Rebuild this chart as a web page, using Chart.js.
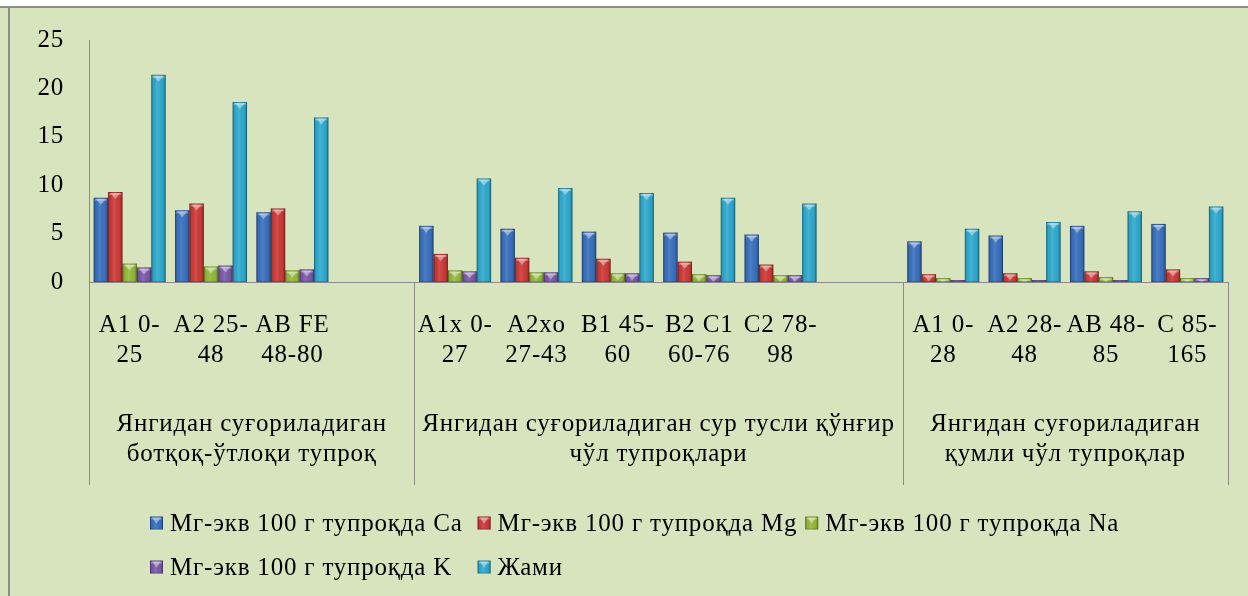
<!DOCTYPE html>
<html>
<head>
<meta charset="utf-8">
<script src="https://cdn.jsdelivr.net/npm/chart.js@4.4.1/dist/chart.umd.min.js"></script>
<style>
  html, body { margin: 0; padding: 0; background: #ffffff; }
  #wrap { position: relative; width: 1248px; height: 596px; }
  canvas { display: block; }
</style>
</head>
<body>
<div id="wrap"><canvas id="chart" width="1248" height="596"></canvas></div>
<script>
// Soil horizons (two-line labels); '' marks a spacer slot between soil groups
const categories = [
  ['A1 0-', '25'], ['A2 25-', '48'], ['AB FE', '48-80'], '',
  ['A1x 0-', '27'], ['A2xo', '27-43'], ['B1 45-', '60'], ['B2 C1', '60-76'], ['C2 78-', '98'], '',
  ['A1 0-', '28'], ['A2 28-', '48'], ['AB 48-', '85'], ['C 85-', '165']
];

// Soil groups and how many category slots each one spans
const groupLabels = [
  ['Янгидан суғориладиган', 'ботқоқ-ўтлоқи тупроқ'],
  ['Янгидан суғориладиган сур тусли қўнғир', 'чўл тупроқлари'],
  ['Янгидан суғориладиган', 'қумли чўл тупроқлар']
];
const groupSpans = [4, 6, 4];

// Exchangeable cations, mg-eq per 100 g of soil
const seriesNames = [
  'Мг-экв 100 г тупроқда Ca',
  'Мг-экв 100 г тупроқда Mg',
  'Мг-экв 100 г тупроқда Na',
  'Мг-экв 100 г тупроқда K',
  'Жами'
];
const caValues    = [8.7, 7.4, 7.2, null, 5.8, 5.5, 5.2, 5.1, 4.9, null, 4.2, 4.8, 5.8, 6.0];
const mgValues    = [9.3, 8.1, 7.6, null, 2.9, 2.5, 2.4, 2.1, 1.8, null, 0.8, 0.9, 1.1, 1.3];
const naValues    = [1.9, 1.6, 1.2, null, 1.2, 1.0, 0.9, 0.8, 0.7, null, 0.4, 0.4, 0.5, 0.4];
const kValues     = [1.5, 1.7, 1.3, null, 1.1, 1.0, 0.9, 0.7, 0.7, null, 0.2, 0.2, 0.2, 0.4];
const totalValues = [21.4, 18.6, 17.0, null, 10.7, 9.7, 9.2, 8.7, 8.1, null, 5.5, 6.2, 7.3, 7.8];

const yTicks = [0, 5, 10, 15, 20, 25];

const seriesColors = ['#3a71bf', '#cd3b38', '#94bb3a', '#7c5aab', '#30abcf'];
const seriesValues = [caValues, mgValues, naValues, kValues, totalValues];

const FONT_FAMILY = "'Liberation Serif', 'Times New Roman', serif";
const FONT_SIZE = 25;
const LETTER_SPACING = '0.8px';
const AXIS_GREY = '#8a8a8a';

Chart.defaults.font.family = FONT_FAMILY;
Chart.defaults.color = '#000000';

// Slightly open tracking for all canvas text
const trackingPlugin = {
  id: 'tracking',
  beforeUpdate(chart) { chart.ctx.letterSpacing = LETTER_SPACING; },
  beforeLayout(chart) { chart.ctx.letterSpacing = LETTER_SPACING; },
  beforeDraw(chart) { chart.ctx.letterSpacing = LETTER_SPACING; }
};

// Background panel with the grey frame on the top and left edges
const framePlugin = {
  id: 'frame',
  beforeDraw(chart) {
    const { ctx, width, height } = chart;
    ctx.save();
    ctx.fillStyle = '#d8e4bd';
    ctx.fillRect(0, 0, width, height);
    ctx.fillStyle = '#ffffff';
    ctx.fillRect(0, 0, width, 6);
    ctx.fillStyle = '#8c8c8c';
    ctx.fillRect(0, 6, width, 2);
    ctx.fillRect(8, 6, 2, height - 6);
    ctx.restore();
  }
};

function shadeBox(ctx, left, top, w, h) {
  if (w <= 0 || h <= 0) return;
  const g = ctx.createLinearGradient(left, 0, left + w, 0);
  g.addColorStop(0, 'rgba(0,0,0,0.26)');
  g.addColorStop(0.16, 'rgba(0,0,0,0.04)');
  g.addColorStop(0.42, 'rgba(255,255,255,0.10)');
  g.addColorStop(0.8, 'rgba(0,0,0,0.03)');
  g.addColorStop(1, 'rgba(0,0,0,0.30)');
  ctx.fillStyle = g;
  ctx.fillRect(left, top, w, h);
  // bevelled cap
  const capH = Math.min(6, h - 1);
  if (capH > 1) {
    ctx.fillStyle = 'rgba(255,255,255,0.28)';
    ctx.fillRect(left + 1, top + 1, w - 2, Math.min(2, capH));
    ctx.beginPath();
    ctx.moveTo(left + 2, top + 1);
    ctx.lineTo(left + w - 2, top + 1);
    ctx.lineTo(left + w / 2, top + capH + 1);
    ctx.closePath();
    ctx.fillStyle = 'rgba(255,255,255,0.40)';
    ctx.fill();
  }
  ctx.strokeStyle = 'rgba(0,0,0,0.20)';
  ctx.lineWidth = 1;
  ctx.strokeRect(left + 0.5, top + 0.5, w - 1, h - 1);
}

// Gloss / bevel overlay on every bar
const bevelPlugin = {
  id: 'bevel',
  afterDatasetsDraw(chart) {
    const { ctx, chartArea } = chart;
    ctx.save();
    ctx.beginPath();
    ctx.rect(chartArea.left, chartArea.top - 2, chartArea.right - chartArea.left, chartArea.bottom - chartArea.top + 2);
    ctx.clip();
    chart.data.datasets.forEach((ds, di) => {
      const meta = chart.getDatasetMeta(di);
      meta.data.forEach((bar, i) => {
        if (ds.data[i] == null) return;
        const p = bar.getProps(['x', 'y', 'base', 'width'], true);
        shadeBox(ctx, p.x - p.width / 2, p.y, p.width, p.base - p.y);
      });
    });
    ctx.restore();
  }
};

// Soil-group labels and separators under the category axis
const groupAxisPlugin = {
  id: 'groupAxis',
  afterDraw(chart) {
    const { ctx } = chart;
    const xs = chart.scales.x;
    const top = chart.chartArea.bottom;
    const lineBottom = 485;
    ctx.save();
    ctx.letterSpacing = LETTER_SPACING;
    ctx.strokeStyle = AXIS_GREY;
    ctx.lineWidth = 1;
    let start = 0;
    const bounds = [xs.getPixelForValue(-0.5)];
    groupSpans.forEach(n => { start += n; bounds.push(xs.getPixelForValue(start - 0.5)); });
    bounds.forEach(px => {
      const x = Math.round(px) + 0.5;
      ctx.beginPath();
      ctx.moveTo(x, top);
      ctx.lineTo(x, lineBottom);
      ctx.stroke();
    });
    ctx.font = FONT_SIZE + 'px ' + FONT_FAMILY;
    ctx.fillStyle = '#000000';
    ctx.textAlign = 'center';
    ctx.textBaseline = 'middle';
    groupLabels.forEach((lines, gi) => {
      const cx = (bounds[gi] + bounds[gi + 1]) / 2;
      lines.forEach((t, li) => ctx.fillText(t, cx, top + 142 + li * 30));
    });
    ctx.restore();
  }
};

// Legend laid out in equal-width columns
const columnLegendPlugin = {
  id: 'columnLegend',
  afterDraw(chart) {
    const { ctx } = chart;
    const perRow = 3, box = 13, gap = 7, colGap = 8;
    const rowY = [523, 567];
    ctx.save();
    ctx.letterSpacing = LETTER_SPACING;
    ctx.font = FONT_SIZE + 'px ' + FONT_FAMILY;
    const items = chart.data.datasets.map(d => ({ label: d.label, color: d.backgroundColor }));
    const widths = items.map(it => box + gap + ctx.measureText(it.label).width);
    const colW = Math.max(...widths) + colGap;
    const total = perRow * colW - colGap;
    const startX = Math.round(chart.width / 2 + 13 - total / 2);
    ctx.textAlign = 'left';
    ctx.textBaseline = 'middle';
    items.forEach((it, i) => {
      const x = startX + (i % perRow) * colW;
      const y = rowY[Math.floor(i / perRow)];
      ctx.fillStyle = it.color;
      ctx.fillRect(x, y - box / 2, box, box);
      shadeBox(ctx, x, y - box / 2, box, box);
      ctx.fillStyle = '#000000';
      ctx.fillText(it.label, x + box + gap, y + 1);
    });
    ctx.restore();
  }
};

const datasets = seriesNames.map((name, i) => ({
  label: name,
  data: seriesValues[i],
  backgroundColor: seriesColors[i],
  borderWidth: 0
}));

new Chart(document.getElementById('chart'), {
  type: 'bar',
  data: { labels: categories, datasets },
  options: {
    responsive: false,
    animation: false,
    layout: { padding: { top: 37, left: 10, right: 20, bottom: 0 } },
    datasets: { bar: { categoryPercentage: 0.885, barPercentage: 1.0 } },
    plugins: {
      legend: { display: false },
      tooltip: { enabled: false }
    },
    scales: {
      x: {
        grid: { display: false, drawTicks: false },
        border: { display: true, color: AXIS_GREY, width: 1 },
        ticks: {
          autoSkip: false,
          maxRotation: 0,
          padding: 28,
          color: '#000000',
          font: { size: FONT_SIZE, lineHeight: 1.2 }
        },
        afterFit(scale) { scale.height = 314; }
      },
      y: {
        min: 0,
        max: 25,
        grid: { display: false, drawTicks: false },
        border: { display: true, color: AXIS_GREY, width: 1 },
        afterBuildTicks(scale) { scale.ticks = yTicks.map(v => ({ value: v })); },
        ticks: {
          padding: 25,
          color: '#000000',
          font: { size: FONT_SIZE }
        },
        afterFit(scale) { scale.width = 79; }
      }
    }
  },
  plugins: [trackingPlugin, framePlugin, bevelPlugin, groupAxisPlugin, columnLegendPlugin]
});
</script>
</body>
</html>
